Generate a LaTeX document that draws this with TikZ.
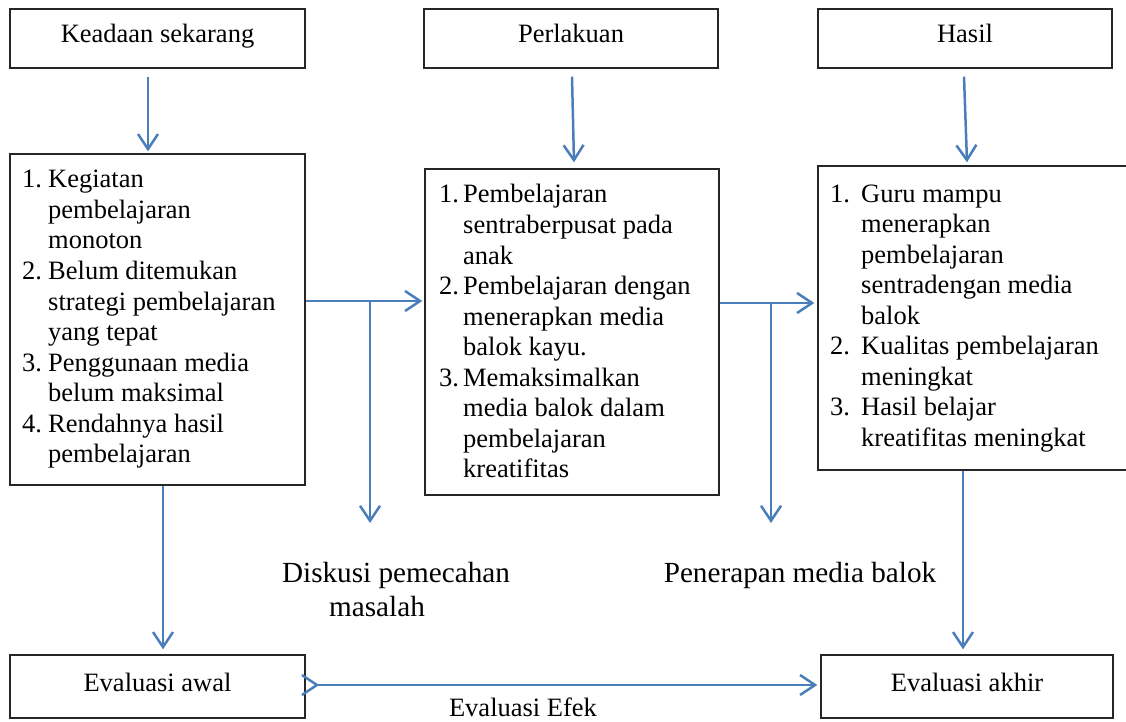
\documentclass[tikz,border=0pt]{standalone}
\usepackage{fontspec}
\setmainfont{Liberation Serif}
\usetikzlibrary{arrows.meta}
\definecolor{arrowblue}{HTML}{4A7EBB}
\tikzset{
  boxone/.style={draw=black!85, line width=1.4pt, inner sep=0pt, minimum width=#1, minimum height=59pt,
    text height=17pt, text depth=8pt, font=\fontsize{26.5}{30.5}\selectfont},
  listbox/.style={draw=black!85, line width=1.4pt, inner sep=0pt},
  listtext/.style={inner sep=0pt, anchor=base west, font=\fontsize{26.5}{30.5}\selectfont},
  bigtext/.style={inner sep=0pt, anchor=base, font=\fontsize{29.2}{34}\selectfont},
  arr/.style={draw=arrowblue, line width=2.5pt, -{Straight Barb[length=15pt,width=20pt]}},
}
\begin{document}
\begin{tikzpicture}[x=1pt,y=-1pt]
\useasboundingbox (0,0) rectangle (1126,722);
% top boxes
\node[boxone=295pt] (k) at (157.5,38.5) {Keadaan sekarang};
\node[boxone=294pt] (p) at (571,38.5) {Perlakuan};
\node[boxone=294pt] (h) at (965,38.5) {Hasil};
% list boxes
\node[listbox, minimum width=295pt, minimum height=331pt] (l1) at (157.5,319.5) {};
\node[listbox, minimum width=294pt, minimum height=326pt] (l2) at (572,332) {};
\node[listbox, minimum width=312pt, minimum height=304pt] (l3) at (974,318) {};
\node[listtext] (t1) at (22,188) {\begin{tabular}[t]{@{}p{26pt}@{}l@{}}
1.& Kegiatan\\ & pembelajaran\\ & monoton\\
2.& Belum ditemukan\\ & strategi pembelajaran\\ & yang tepat\\
3.& Penggunaan media\\ & belum maksimal\\
4.& Rendahnya hasil\\ & pembelajaran\end{tabular}};
\node[listtext] (t2) at (439,203) {\begin{tabular}[t]{@{}p{24pt}@{}l@{}}
1.& Pembelajaran\\ & sentraberpusat pada\\ & anak\\
2.& Pembelajaran dengan\\ & menerapkan media\\ & balok kayu.\\
3.& Memaksimalkan\\ & media balok dalam\\ & pembelajaran\\ & kreatifitas\end{tabular}};
\node[listtext] (t3) at (830,202) {\begin{tabular}[t]{@{}p{31pt}@{}l@{}}
1.& Guru mampu\\ & menerapkan\\ & pembelajaran\\ & sentradengan media\\ & balok\\
2.& Kualitas pembelajaran\\ & meningkat\\
3.& Hasil belajar\\ & kreatifitas meningkat\end{tabular}};
% bottom boxes
\node[boxone=295pt, minimum height=63pt] (ea) at (157.5,686.5) {Evaluasi awal};
\node[boxone=292pt, minimum height=63pt] (ek) at (967,686.5) {Evaluasi akhir};
% free labels
\node[bigtext] (dk) at (396,582) {\begin{tabular}[t]{@{}c@{}}Diskusi pemecahan\\ masalah\hspace*{38pt}\end{tabular}};
\node[bigtext] (pm) at (800,582) {Penerapan media balok};
\node[inner sep=0pt, anchor=base, font=\fontsize{26.5}{30.5}\selectfont] (ef) at (523,716) {Evaluasi Efek};
% junctions and free ends
\coordinate (j1) at (370,301);
\coordinate (e1) at (370,523);
\coordinate (j2) at (771,303);
\coordinate (e2) at (771,523);
% connectors
\draw[arr] ([shift={(-9.5,8)}]k.south) -- ([shift={(-9.5,-2)}]l1.north);
\draw[arr] ([shift={(1,8)}]p.south) -- ([shift={(2,-6)}]l2.north);
\draw[arr] ([shift={(-1,8)}]h.south) -- ([shift={(-7,-3)}]l3.north);
\draw[arr] (l1.east |- j1) -- ([xshift=-2]l2.west |- j1);
\draw[arr] (j1) -- (e1);
\draw[arr] (l2.east |- j2) -- ([xshift=-3]l3.west |- j2);
\draw[arr] (j2) -- (e2);
\draw[arr] ([xshift=5.5]l1.south) -- ([shift={(5.5,-5)}]ea.north);
\draw[arr] ([xshift=-11]l3.south) -- ([shift={(-4,-5)}]ek.north);
\draw[arr, {Straight Barb[reversed,length=15pt,width=20pt]}-{Straight Barb[length=15pt,width=20pt]}] ([shift={(-5,-1.5)}]ea.east) -- ([shift={(-3,-1.5)}]ek.west);
\end{tikzpicture}
\end{document}
